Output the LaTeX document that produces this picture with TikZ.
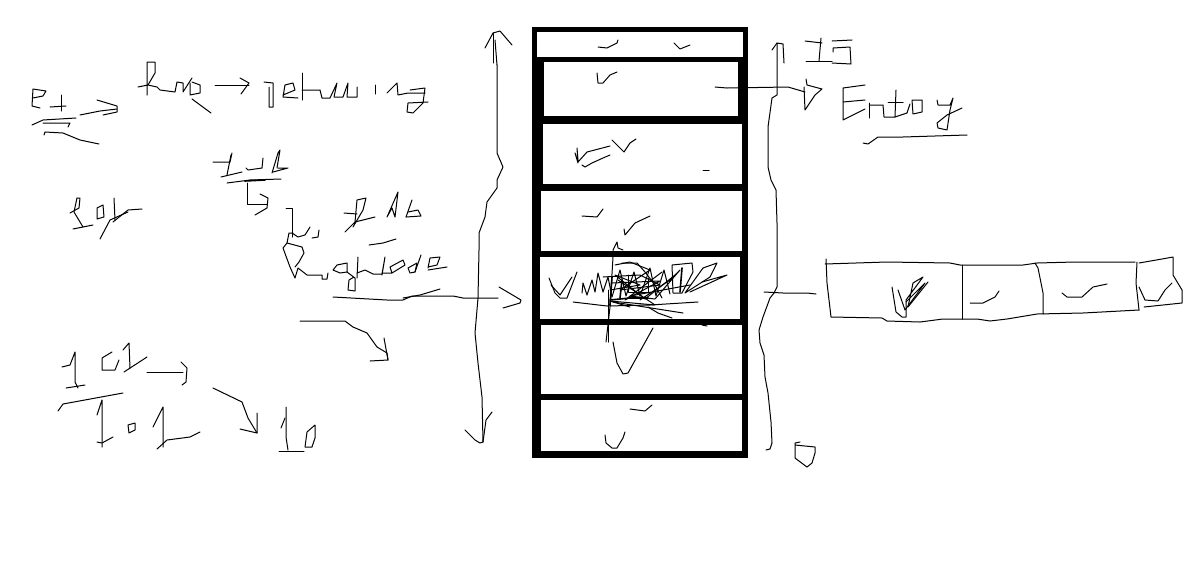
\documentclass[tikz,border=0pt]{standalone}
\tikzset{
  pen/.style={line width=1pt},
  heavypen/.style={line width=1.6pt},
}
\begin{document}
\begin{tikzpicture}[x=1pt,y=-1pt,line cap=round,line join=round]
  \useasboundingbox (0,0) rectangle (1190,563);

  % The black frame of the stack, with its seven white cells.
  \fill[black] (532,27) rectangle (748,458);
  \foreach \xa/\ya/\xb/\yb in {537/32/743/57,544/62/738/116,543/124/742/184,541/191/742/251,
    540/257/740/319,541/325/742/394,541/400/742/451}{
    \fill[white] (\xa,\ya) rectangle (\xb,\yb);
  }

  % Ticks in the cells.
  \draw[pen] (598,47) -- (607,48) -- (617,43) -- (618,40);
  \draw[pen] (674,43) -- (680,49) -- (690,45);
  \draw[pen] (597,73) -- (598,83) -- (603,83) -- (610,75) -- (617,72);
  \draw[pen] (610,146) -- (587,152) -- (578,162) -- (575,153) -- (578,163) -- (577,148) -- (578,160);
  \draw[pen] (582,165) -- (585,167) -- (592,163) -- (603,158) -- (610,155);
  \draw[pen] (612,140) -- (624,152) -- (630,143) -- (636,139);
  \draw[pen] (703,170) -- (709,170);
  \draw[pen] (582,216) -- (597,217) -- (603,209);
  \draw[pen] (624,229) -- (625,235) -- (635,223) -- (650,216);
  \draw[pen] (630,409) -- (645,411) -- (652,405);
  \draw[pen] (605,435) -- (606,443) -- (612,448) -- (617,448) -- (623,438) -- (625,432);

  % The scribbled middle cell.
  \draw[pen] (549,278) -- (555,293) -- (560,298) -- (567,298) -- (577,272);
  \draw[pen] (551,285) -- (560,295) -- (572,277);
  \draw[pen] (573,302) -- (607,306) -- (650,305) -- (698,302);
  \draw[pen] (613,302) -- (683,313);
  \draw[pen] (648,307) -- (658,313) -- (672,318);
  \draw[pen] (702,325) -- (707,326);
  \draw[pen] (582,293) -- (583,283) -- (587,295) -- (592,280) -- (595,292) -- (598,273) -- (603,292)
    -- (608,277) -- (612,297) -- (620,270) -- (626,296) -- (634,272) -- (640,296) -- (650,268) -- (656,296)
    -- (664,270) -- (670,294);
  \draw[pen] (622,263) -- (637,263) -- (645,272) -- (655,285) -- (662,298);
  \draw[pen] (603,277) -- (640,275) -- (660,285) -- (620,290) -- (650,270) -- (630,262) -- (615,265);
  \draw[pen] (672,265) -- (692,263) -- (693,272) -- (682,293) -- (673,293) -- (672,265);
  \draw[pen] (685,293) -- (703,268) -- (717,263) -- (710,277) -- (685,293);
  \draw[pen] (690,292) -- (727,275) -- (702,282);
  \draw[pen] (640,300) -- (670,280) -- (680,270) -- (655,299) -- (630,296) -- (690,285);
  \draw[pen] (610,290) -- (640,285) -- (615,275) -- (645,299) -- (675,275);
  \draw[pen] (612,283) -- (660,281) -- (625,300) -- (662,272);
  \draw[pen] (628,275) -- (628,292) -- (648,292) -- (648,278);
  \draw[heavypen] (610,300) -- (630,298) -- (648,298);
  \draw[heavypen] (612,277) -- (610,305);
  \draw[heavypen] (622,280) -- (620,298);
  \draw[heavypen] (682,268) -- (680,292);
  \draw[pen] (618,280) -- (655,305) -- (610,301) -- (630,307);
  \draw[pen] (606,342) -- (610,307) -- (613,257) -- (613,250) -- (617,242) -- (618,248) -- (623,250);
  \draw[pen] (608,342) -- (608,290);
  \draw[pen] (613,342) -- (617,363) -- (623,374) -- (628,373) -- (653,328);

  % The two-headed arrow left of the stack.
  \draw[pen] (493,63) -- (493,33);
  \draw[pen] (497,65) -- (495,40);
  \draw[pen] (485,48) -- (493,33) -- (500,31) -- (512,45);
  \draw[pen] (497,65) -- (497,153) -- (503,167) -- (497,180) -- (497,188) -- (487,202) -- (485,217)
    -- (479,233) -- (479,250) -- (478,298) -- (475,333) -- (478,363) -- (482,397) -- (483,442)
    -- (480,443) -- (475,440) -- (465,430);
  \draw[pen] (483,442) -- (486,420) -- (492,412);

  % The bracket on the right of the stack and what leaves it.
  \draw[pen] (777,43) -- (777,95) -- (772,98) -- (768,127) -- (768,167) -- (771,180) -- (776,190)
    -- (777,223) -- (777,287) -- (774,293) -- (770,298) -- (763,317) -- (759,330) -- (760,343)
    -- (764,355) -- (765,377) -- (768,393) -- (771,422) -- (772,443) -- (770,449) -- (766,450);
  \draw[pen] (715,87) -- (727,88) -- (788,87) -- (805,92);
  \draw[pen] (806,79) -- (807,85) -- (822,89) -- (815,95) -- (805,110) -- (804,87);
  \draw[pen] (764,292) -- (783,293) -- (807,293) -- (816,294);
  \draw[pen] (795,445) -- (815,447) -- (815,453) -- (812,463) -- (807,467) -- (795,458) -- (795,443) -- (800,442);

  % Marks beside the top of the bracket.
  \draw[pen] (772,50) -- (777,43) -- (783,44) -- (784,63);
  \draw[pen] (805,41) -- (822,43);
  \draw[pen] (821,38) -- (819,61);
  \draw[pen] (806,61) -- (832,61);
  \draw[pen] (832,41) -- (852,40);
  \draw[pen] (833,52) -- (833,48) -- (850,47) -- (851,64) -- (832,63);

  % The word on the right, underlined.
  \draw[pen] (865,85) -- (843,88) -- (843,120) -- (865,109);
  \draw[pen] (843,102) -- (865,100);
  \draw[pen] (869,103) -- (869,118);
  \draw[pen] (869,105) -- (883,105) -- (884,117) -- (895,117) -- (896,90);
  \draw[pen] (888,102) -- (903,102);
  \draw[pen] (895,117) -- (907,113) -- (910,104);
  \draw[pen] (912,100) -- (922,100) -- (922,112) -- (913,114) -- (912,100);
  \draw[pen] (937,100) -- (938,105) -- (950,105) -- (953,98) -- (950,110) -- (947,130) -- (938,128)
    -- (937,123) -- (947,115) -- (962,108);
  \draw[pen] (863,143) -- (868,144) -- (878,137) -- (903,137) -- (967,135);

  % The row of four boxes.
  \draw[pen] (826,259) -- (827,283) -- (831,317) -- (882,318) -- (887,321) -- (920,322) -- (943,319)
    -- (977,319) -- (990,321) -- (1007,319) -- (1037,314) -- (1083,313) -- (1139,310);
  \draw[pen] (825,264) -- (887,262) -- (950,263) -- (960,265) -- (1023,265) -- (1037,263) -- (1075,262) -- (1135,262);
  \draw[pen] (962,265) -- (962,319);
  \draw[pen] (1035,263) -- (1038,268) -- (1043,293) -- (1043,314);
  \draw[pen] (1137,262) -- (1136,283) -- (1139,310);
  \draw[pen] (1139,263) -- (1162,259) -- (1173,257) -- (1173,275) -- (1182,290) -- (1182,303) -- (1144,307);
  \draw[pen] (892,287) -- (896,312) -- (902,317) -- (906,317) -- (906,300) -- (923,277) -- (913,283) -- (908,307) -- (928,282);
  \draw[pen] (898,290) -- (905,310) -- (925,283) -- (906,302);
  \draw[pen] (970,303) -- (983,303) -- (995,297) -- (999,291);
  \draw[pen] (1062,293) -- (1067,297) -- (1082,297) -- (1093,287) -- (1107,284);
  \draw[pen] (1139,287) -- (1145,300) -- (1158,301) -- (1165,290) -- (1172,283);

  % Top left strokes.
  \draw[pen] (33,98) -- (43,96) -- (46,91) -- (33,89) -- (32,106) -- (40,108);
  \draw[pen] (61,95) -- (61,111);
  \draw[pen] (50,107) -- (66,106);
  \draw[pen] (80,115) -- (100,111) -- (117,109);
  \draw[pen] (97,100) -- (117,106) -- (117,112) -- (103,115);
  \draw[pen] (32,125) -- (43,120) -- (76,118);
  \draw[pen] (43,123) -- (70,123) -- (68,127);
  \draw[pen] (44,135) -- (45,132) -- (63,133) -- (80,140) -- (99,144);

  % The top line of handwriting.
  \draw[pen] (147,95) -- (147,62) -- (155,62) -- (155,73) -- (148,85);
  \draw[pen] (138,87) -- (148,85) -- (157,87) -- (160,90) -- (175,92) -- (177,82) -- (183,83) -- (183,92) -- (192,78);
  \draw[pen] (192,82) -- (200,85) -- (200,93) -- (190,95) -- (190,83);
  \draw[pen] (192,99) -- (211,113);
  \draw[pen] (215,85) -- (249,85);
  \draw[pen] (240,78) -- (249,83) -- (241,94);
  \draw[pen] (264,82) -- (273,83) -- (273,107) -- (269,107) -- (269,87);
  \draw[pen] (283,95) -- (295,90) -- (293,83) -- (285,85) -- (283,97) -- (298,98);
  \draw[pen] (302,73) -- (302,100);
  \draw[pen] (302,90) -- (320,90) -- (322,98) -- (330,98) -- (337,83) -- (334,97) -- (343,97) -- (348,83)
    -- (347,97) -- (357,97) -- (357,87);
  \draw[pen] (375,85) -- (375,94);
  \draw[pen] (387,93) -- (397,83) -- (398,95) -- (408,93) -- (425,93);
  \draw[pen] (410,90) -- (425,88) -- (423,103) -- (413,113) -- (407,112) -- (408,103) -- (428,102);

  % The middle group of strokes.
  \draw[pen] (213,162) -- (230,162) -- (232,153);
  \draw[pen] (231,155) -- (227,175);
  \draw[pen] (221,177) -- (242,172);
  \draw[pen] (246,168) -- (248,170) -- (262,168) -- (263,158);
  \draw[pen] (272,173) -- (278,153) -- (280,150) -- (277,168);
  \draw[pen] (278,168) -- (288,168) -- (273,172);
  \draw[pen] (227,183) -- (250,180) -- (281,179);
  \draw[heavypen] (245,181) -- (265,180);
  \draw[pen] (247,183) -- (247,204) -- (267,204);
  \draw[pen] (260,194) -- (268,198) -- (267,208) -- (255,215);
  \draw[pen] (77,198) -- (74,212) -- (83,227);
  \draw[pen] (77,198) -- (80,198) -- (79,208) -- (70,213);
  \draw[pen] (73,229) -- (93,225);
  \draw[pen] (97,208) -- (103,205) -- (104,217) -- (97,219) -- (97,208);
  \draw[pen] (114,198) -- (115,220);
  \draw[pen] (142,209) -- (128,210) -- (113,222);
  \draw[pen] (128,212) -- (110,220) -- (100,239);
  \draw[pen] (286,208) -- (292,208) -- (292,237);
  \draw[pen] (292,233) -- (298,237) -- (305,235) -- (310,227);
  \draw[pen] (312,238) -- (318,237) -- (319,230);
  \draw[pen] (287,243) -- (289,233) -- (293,233);
  \draw[pen] (345,232) -- (355,222) -- (357,200) -- (366,198) -- (363,210) -- (353,227);
  \draw[pen] (344,213) -- (357,214);
  \draw[pen] (355,222) -- (375,217);
  \draw[pen] (387,217) -- (398,192) -- (395,217) -- (392,208) -- (387,217);
  \draw[pen] (406,217) -- (412,200);
  \draw[pen] (406,217) -- (421,216) -- (418,210) -- (408,212);
  \draw[pen] (369,245) -- (383,243) -- (396,239);

  % The long word above the arrow into the stack.
  \draw[pen] (287,243) -- (283,248) -- (290,267) -- (295,278) -- (298,268) -- (307,275) -- (322,275)
    -- (322,279) -- (327,279) -- (328,273);
  \draw[pen] (287,243) -- (302,247) -- (304,253) -- (299,262) -- (295,267);
  \draw[pen] (333,270) -- (337,265) -- (347,263) -- (347,272) -- (340,273) -- (333,270);
  \draw[pen] (347,272) -- (355,278) -- (355,291) -- (348,290) -- (349,280) -- (354,277);
  \draw[pen] (358,257) -- (357,278);
  \draw[pen] (357,273) -- (365,270) -- (373,274) -- (382,274) -- (385,257) -- (382,275);
  \draw[pen] (382,273) -- (392,273) -- (405,265) -- (403,260) -- (390,267) -- (392,273);
  \draw[pen] (410,273) -- (408,268) -- (417,263) -- (415,272) -- (410,273);
  \draw[pen] (415,272) -- (421,255);
  \draw[pen] (428,268) -- (430,258) -- (440,257) -- (437,265) -- (428,267);
  \draw[pen] (428,270) -- (447,267);

  % The arrow into the stack and the curved arrow under it.
  \draw[pen] (333,297) -- (387,300) -- (403,300) -- (412,296) -- (453,296) -- (463,298) -- (498,298);
  \draw[pen] (403,298) -- (420,295) -- (440,289);
  \draw[pen] (499,287) -- (521,300) -- (520,303) -- (503,308);
  \draw[pen] (300,321) -- (345,321) -- (353,327) -- (367,333) -- (377,347) -- (387,353) -- (388,360);
  \draw[pen] (384,338) -- (388,360) -- (370,361);

  % The sum at the bottom left.
  \draw[pen] (62,367) -- (70,365) -- (75,352) -- (75,382) -- (78,388);
  \draw[pen] (66,388) -- (85,385);
  \draw[pen] (112,352) -- (102,358) -- (102,370) -- (115,370) -- (119,360);
  \draw[pen] (124,372) -- (147,357);
  \draw[pen] (123,350) -- (129,343) -- (130,368);
  \draw[pen] (147,372) -- (183,372);
  \draw[pen] (181,362) -- (187,368) -- (186,382) -- (182,385);
  \draw[pen] (58,411) -- (63,404) -- (123,393);
  \draw[pen] (97,415) -- (102,400) -- (102,447);
  \draw[pen] (97,442) -- (102,443) -- (113,437);
  \draw[pen] (128,425) -- (135,423) -- (135,430) -- (129,433) -- (128,425);
  \draw[pen] (153,427) -- (163,407) -- (163,447);
  \draw[pen] (157,449) -- (167,440) -- (190,437) -- (200,432);
  \draw[pen] (213,388) -- (242,402) -- (248,418) -- (257,433);
  \draw[pen] (257,413) -- (257,433) -- (240,429);
  \draw[pen] (281,428) -- (285,418);
  \draw[pen] (286,407) -- (286,437) -- (288,450);
  \draw[pen] (279,451) -- (304,451);
  \draw[pen] (315,425) -- (307,432) -- (305,447) -- (312,447) -- (315,438) -- (315,425);
\end{tikzpicture}
\end{document}
